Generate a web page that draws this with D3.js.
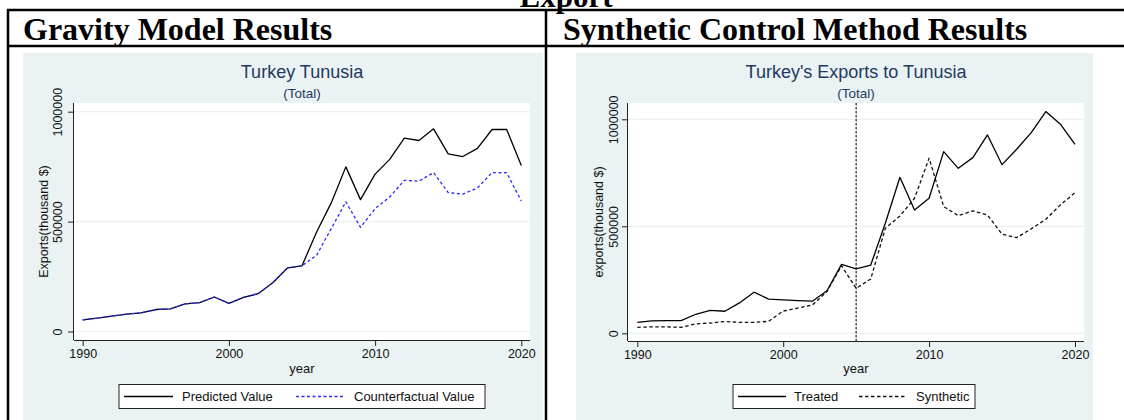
<!DOCTYPE html>
<html>
<head>
<meta charset="utf-8">
<script src="https://cdn.jsdelivr.net/npm/d3@7/dist/d3.min.js"></script>
<style>
  html, body { margin: 0; padding: 0; background: #fff; }
  svg { display: block; }
</style>
</head>
<body>
<svg id="chart" width="1124" height="420"></svg>
<script>
// ---------------- DATA ----------------
const years = [1990,1991,1992,1993,1994,1995,1996,1997,1998,1999,2000,2001,2002,2003,2004,2005,2006,2007,2008,2009,2010,2011,2012,2013,2014,2015,2016,2017,2018,2019,2020];
const predicted = [53000,61000,70000,79000,85000,100000,103000,126000,131000,157000,128000,155000,172000,222000,289000,299000,453000,585000,749000,600000,716000,783000,880000,869000,922000,808000,796000,833000,919000,919000,755000];
const counterfactual = [53000,61000,70000,79000,85000,100000,103000,126000,131000,157000,128000,155000,172000,222000,289000,299000,347000,468000,590000,474000,559000,612000,688000,684000,723000,632000,625000,653000,723000,722000,594000];
const treated = [51000,58000,59000,59000,89000,107000,103000,142000,192000,160000,156000,153000,150000,199000,322000,301000,319000,514000,729000,576000,631000,849000,771000,821000,927000,788000,860000,938000,1036000,977000,883000];
const synthetic = [28000,30000,30000,28000,44000,48000,55000,51000,51000,56000,104000,118000,132000,195000,316000,210000,254000,491000,548000,631000,818000,592000,550000,572000,553000,463000,447000,488000,533000,600000,657000];
const xTicks = [1990, 2000, 2010, 2020];
const yTicks = [0, 500000, 1000000];
const treatmentYear = 2005;
const pageTitle = "Export";
const headers = ["Gravity Model Results", "Synthetic Control Method Results"];
const leftTitle = "Turkey Tunusia";
const rightTitle = "Turkey's Exports to Tunusia";
const subTitle = "(Total)";
const leftYTitle = "Exports(thousand $)";
const rightYTitle = "exports(thousand $)";
const xTitle = "year";
const leftLegend = ["Predicted Value", "Counterfactual Value"];
const rightLegend = ["Treated", "Synthetic"];

// ---------------- DRAW ----------------
const svg = d3.select("#chart");
const SANS = "'Liberation Sans', Arial, Helvetica, sans-serif";
const SERIF = "'Liberation Serif', 'Times New Roman', serif";
const BG = "#eaf2f3";
const TITLE_COLOR = "#1f3a5f";

// Page header text (partly above the top edge, as in the source)
svg.append("text").attr("x", 566).attr("y", 7).attr("text-anchor", "middle")
  .attr("font-family", SERIF).attr("font-weight", "bold").attr("font-size", 31)
  .text(pageTitle);

// Panel backgrounds
svg.append("rect").attr("x", 23).attr("y", 53).attr("width", 520).attr("height", 367).attr("fill", BG);
svg.append("rect").attr("x", 576).attr("y", 53).attr("width", 517).attr("height", 367).attr("fill", BG);

// Table lines
const lines = svg.append("g").attr("stroke", "#000").attr("stroke-width", 2.5);
lines.append("line").attr("x1", 7).attr("x2", 1124).attr("y1", 10).attr("y2", 10);
lines.append("line").attr("x1", 7).attr("x2", 1124).attr("y1", 46).attr("y2", 46);
lines.append("line").attr("x1", 8).attr("x2", 8).attr("y1", 9).attr("y2", 420);
lines.append("line").attr("x1", 546).attr("x2", 546).attr("y1", 9).attr("y2", 420);

// Headers
svg.append("text").attr("x", 23).attr("y", 40)
  .attr("font-family", SERIF).attr("font-weight", "bold").attr("font-size", 32)
  .text(headers[0]);
svg.append("text").attr("x", 563).attr("y", 40)
  .attr("font-family", SERIF).attr("font-weight", "bold").attr("font-size", 32)
  .text(headers[1]);

function panel(cfg) {
  const g = svg.append("g");
  const x = d3.scaleLinear().domain([1990, 2020]).range(cfg.xRange);
  const y = d3.scaleLinear().domain([0, 1000000]).range(cfg.yRange);

  // plot region
  g.append("rect").attr("x", cfg.plot.l).attr("y", cfg.plot.t)
    .attr("width", cfg.plot.r - cfg.plot.l).attr("height", cfg.plot.b - cfg.plot.t)
    .attr("fill", "#fff");

  // gridlines
  g.selectAll(".grid").data(yTicks).join("line")
    .attr("x1", cfg.plot.l).attr("x2", cfg.plot.r)
    .attr("y1", d => y(d)).attr("y2", d => y(d))
    .attr("stroke", BG).attr("stroke-width", 1.2);

  // y axis
  const yAxis = d3.axisLeft(y).tickValues(yTicks).tickSize(6).tickPadding(4).tickFormat(d3.format("d"));
  const ya = g.append("g").attr("transform", `translate(${cfg.plot.l},0)`).call(yAxis);
  ya.select(".domain").attr("d", `M-0.5,${cfg.plot.t}V${cfg.plot.b}`).attr("stroke", "#222");
  ya.selectAll(".tick line").attr("stroke", "#222");
  ya.selectAll(".tick text")
    .attr("font-family", SANS).attr("font-size", 12.5).attr("fill", "#111")
    .attr("x", null).attr("dy", null)
    .attr("text-anchor", "middle")
    .attr("transform", `translate(${cfg.yLabelX - cfg.plot.l},0) rotate(-90)`)
    .attr("dominant-baseline", "central");

  // x axis
  const xAxis = d3.axisBottom(x).tickValues(xTicks).tickSize(6).tickPadding(3).tickFormat(d3.format("d"));
  const xa = g.append("g").attr("transform", `translate(0,${cfg.plot.b})`).call(xAxis);
  xa.select(".domain").attr("d", `M${cfg.plot.l},0.5H${cfg.plot.r}`).attr("stroke", "#222");
  xa.selectAll(".tick line").attr("stroke", "#222");
  xa.selectAll(".tick text").attr("font-family", SANS).attr("font-size", 12.5).attr("fill", "#111");

  // axis titles
  g.append("text").attr("transform", `translate(${cfg.yTitleX},${(cfg.plot.t + cfg.plot.b) / 2}) rotate(-90)`)
    .attr("text-anchor", "middle").attr("dominant-baseline", "central")
    .attr("font-family", SANS).attr("font-size", 12.5).attr("fill", "#111").text(cfg.yTitle);
  g.append("text").attr("x", (cfg.plot.l + cfg.plot.r) / 2).attr("y", 373)
    .attr("text-anchor", "middle")
    .attr("font-family", SANS).attr("font-size", 13).attr("fill", "#111").text(xTitle);

  // titles
  const cx = (cfg.plot.l + cfg.plot.r) / 2;
  g.append("text").attr("x", cx).attr("y", 78).attr("text-anchor", "middle")
    .attr("font-family", SANS).attr("font-size", 18).attr("fill", TITLE_COLOR).text(cfg.title);
  g.append("text").attr("x", cx).attr("y", 98).attr("text-anchor", "middle")
    .attr("font-family", SANS).attr("font-size", 13.5).attr("fill", TITLE_COLOR).text(subTitle);

  // extra (vertical line)
  if (cfg.vline) {
    g.append("line").attr("x1", x(cfg.vline)).attr("x2", x(cfg.vline))
      .attr("y1", cfg.plot.t).attr("y2", cfg.plot.b)
      .attr("stroke", "#333").attr("stroke-width", 1.3).attr("stroke-dasharray", "2.5,1.5");
  }

  // series
  const line = d3.line().x((d, i) => x(years[i])).y(d => y(d));
  cfg.series.forEach(s => {
    g.append("path").datum(s.values).attr("d", line)
      .attr("fill", "none").attr("stroke", s.color).attr("stroke-width", 1.3)
      .attr("stroke-dasharray", s.dash || null).attr("stroke-linejoin", "round");
  });

  // legend
  const L = cfg.legend;
  g.append("rect").attr("x", L.x).attr("y", 384.5).attr("width", L.w).attr("height", 24)
    .attr("fill", "#fff").attr("stroke", "#222").attr("stroke-width", 1);
  cfg.series.forEach((s, i) => {
    const it = L.items[i];
    g.append("line").attr("x1", it.lx1).attr("x2", it.lx2).attr("y1", 396.5).attr("y2", 396.5)
      .attr("stroke", s.color).attr("stroke-width", 1.3).attr("stroke-dasharray", s.dash || null);
    g.append("text").attr("x", it.tx).attr("y", 396.5).attr("dominant-baseline", "central")
      .attr("font-family", SANS).attr("font-size", 13).attr("fill", "#111").text(s.name);
  });
}

panel({
  xRange: [82.7, 521.3], yRange: [331.5, 111.7],
  plot: { l: 74, r: 530, t: 103, b: 340 },
  yLabelX: 58, yTitleX: 44, yTitle: leftYTitle, title: leftTitle,
  series: [
    { name: leftLegend[0], values: predicted, color: "#000" },
    { name: leftLegend[1], values: counterfactual, color: "#2a2aff", dash: "3,2.5" }
  ],
  legend: { x: 119, w: 366, items: [{ lx1: 124, lx2: 173, tx: 182 }, { lx1: 296, lx2: 345, tx: 354 }] }
});

panel({
  xRange: [637.3, 1075], yRange: [333.3, 119.3],
  plot: { l: 628, r: 1084, t: 103, b: 341 },
  yLabelX: 613.5, yTitleX: 599, yTitle: rightYTitle, title: rightTitle,
  vline: treatmentYear,
  series: [
    { name: rightLegend[0], values: treated, color: "#000" },
    { name: rightLegend[1], values: synthetic, color: "#111", dash: "3.5,2.5" }
  ],
  legend: { x: 733, w: 242, items: [{ lx1: 738, lx2: 786, tx: 794 }, { lx1: 859, lx2: 907, tx: 916 }] }
});
</script>
</body>
</html>
